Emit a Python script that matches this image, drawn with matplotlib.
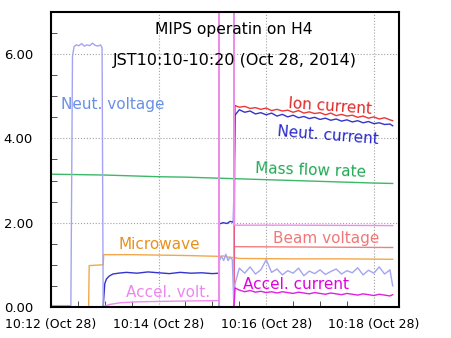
import numpy as np
import matplotlib
matplotlib.use('Agg')
from matplotlib import pyplot as plt
from matplotlib.ticker import MultipleLocator

# time in minutes after 10:12 (Oct 28, 2014)
T_POST = [3.42, 3.5, 3.6, 3.7, 3.8, 3.9, 4.0, 4.1, 4.2, 4.3, 4.4, 4.5, 4.6,
          4.7, 4.8, 4.9, 5.0, 5.1, 5.2, 5.3, 5.4, 5.5, 5.6, 5.7, 5.8, 5.9,
          6.0, 6.1, 6.2, 6.3, 6.35]

neut_volt_t = [0, 0.37, 0.40, 0.43, 0.47, 0.52, 0.57, 0.62, 0.67, 0.72, 0.77,
               0.82, 0.87, 0.92, 0.95, 0.97, 3.12, 3.13, 3.17, 3.21, 3.25,
               3.29, 3.33, 3.37, 3.40]
neut_volt_v = [0.03, 0.03, 5.95, 6.18, 6.22, 6.20, 6.25, 6.19, 6.22, 6.20,
               6.26, 6.21, 6.19, 6.22, 6.15, 0, 0, 1.10, 1.20, 1.10, 1.25,
               1.10, 1.18, 1.12, 0.0]
neut_volt_post = [0.55, 0.92, 0.80, 0.95, 0.78, 0.88, 1.12, 0.82, 0.90, 0.76,
                  0.86, 0.80, 0.92, 0.74, 0.85, 0.79, 0.88, 0.77, 0.84, 0.90,
                  0.78, 0.86, 0.81, 0.93, 0.76, 0.87, 0.80, 0.95, 0.78, 0.88,
                  0.50]

neut_cur_t = [0, 0.97, 1.0, 1.03, 1.08, 1.15, 1.25, 1.4, 1.6, 1.8, 2.0, 2.2,
              2.4, 2.6, 2.8, 3.0, 3.12, 3.13, 3.2, 3.27, 3.33, 3.39]
neut_cur_v = [0, 0, 0.55, 0.66, 0.73, 0.78, 0.80, 0.82, 0.80, 0.83, 0.81,
              0.79, 0.82, 0.80, 0.81, 0.79, 0.80, 1.97, 2.00, 1.98, 2.03, 2.01]
neut_cur_post = [4.55, 4.68, 4.62, 4.65, 4.58, 4.61, 4.56, 4.60, 4.53, 4.57,
                 4.51, 4.55, 4.49, 4.52, 4.47, 4.50, 4.45, 4.48, 4.43, 4.46,
                 4.41, 4.44, 4.39, 4.42, 4.37, 4.40, 4.35, 4.37, 4.33, 4.34,
                 4.30]

ion_t = [0, 3.40]
ion_v = [0, 0]
ion_post = [4.78, 4.74, 4.76, 4.71, 4.73, 4.69, 4.72, 4.66, 4.69, 4.65, 4.67,
            4.62, 4.66, 4.60, 4.63, 4.59, 4.61, 4.56, 4.60, 4.54, 4.57, 4.53,
            4.55, 4.50, 4.53, 4.48, 4.51, 4.46, 4.49, 4.44, 4.42]

accel_cur_t = [0, 3.40]
accel_cur_v = [0, 0]
accel_cur_post = [0.45, 0.40, 0.36, 0.39, 0.35, 0.37, 0.34, 0.36, 0.33, 0.36,
                  0.34, 0.32, 0.35, 0.33, 0.31, 0.34, 0.32, 0.30, 0.33, 0.31,
                  0.29, 0.32, 0.30, 0.28, 0.31, 0.29, 0.27, 0.30, 0.28, 0.26,
                  0.29]

mass_t = [0, 0.5, 1.0, 1.5, 2.0, 2.5, 3.0, 3.5, 4.0, 4.5, 5.0, 5.5, 6.0, 6.35]
mass_v = [3.15, 3.14, 3.13, 3.11, 3.09, 3.08, 3.06, 3.04, 3.02, 3.00, 2.98,
          2.96, 2.94, 2.93]

micro_t = [0, 0.70, 0.71, 0.97, 0.98, 1.5, 2.0, 2.5, 3.12, 3.2, 3.3, 3.4,
           3.5, 4.5, 5.5, 6.35]
micro_v = [0, 0, 0.98, 1.00, 1.24, 1.24, 1.23, 1.22, 1.20, 1.21, 1.18, 1.17,
           1.15, 1.14, 1.14, 1.13]

accel_volt_t = [0, 0.97, 1.0, 1.1, 1.3, 1.6, 2.0, 2.5, 3.12, 3.125, 3.13,
                3.395, 3.40, 3.405, 4.5, 6.35]
accel_volt_v = [0, 0, 0.02, 0.06, 0.10, 0.12, 0.13, 0.14, 0.15, 9, 0, 0, 9,
                1.94, 1.94, 1.93]

beam_t = [0, 3.40, 3.41, 6.35]
beam_v = [0, 0, 1.43, 1.41]

xticks = [0, 2, 4, 6]
xticklabels = ['10:12 (Oct 28)', '10:14 (Oct 28)', '10:16 (Oct 28)',
               '10:18 (Oct 28)']
yticks = [0, 2, 4, 6]
yticklabels = ['0.00', '2.00', '4.00', '6.00']

C_NVOLT = '#a4a4f2'
C_NCUR = '#3434cc'
C_ION = '#e83838'
C_MASS = '#3cb868'
C_MICRO = '#f2a84a'
C_AVOLT = '#ee8cee'
C_BEAM = '#f08080'
C_ACUR = '#e020e0'


def main():
    fig = plt.figure(figsize=(4.51, 3.38), dpi=100)
    ax = fig.add_axes([0.113, 0.092, 0.772, 0.8725])

    lw = 1.0
    ax.plot(mass_t, mass_v, color=C_MASS, lw=lw)
    ax.plot(micro_t, micro_v, color=C_MICRO, lw=lw)
    ax.plot(beam_t, beam_v, color=C_BEAM, lw=lw)
    ax.plot(ion_t + T_POST, ion_v + ion_post, color=C_ION, lw=lw)
    ax.plot(neut_cur_t + T_POST, neut_cur_v + neut_cur_post, color=C_NCUR, lw=lw)
    ax.plot(neut_volt_t + T_POST, neut_volt_v + neut_volt_post, color=C_NVOLT, lw=lw)
    ax.plot(accel_volt_t, accel_volt_v, color=C_AVOLT, lw=lw)
    ax.plot(accel_cur_t + T_POST, accel_cur_v + accel_cur_post, color=C_ACUR, lw=lw)

    ax.set_xlim(0, 6.47)
    ax.set_ylim(0, 7)
    ax.set_xticks(xticks)
    ax.set_xticklabels(xticklabels, fontsize=9)
    ax.set_yticks(yticks)
    ax.set_yticklabels(yticklabels, fontsize=9.5)
    ax.xaxis.set_minor_locator(MultipleLocator(0.5))
    ax.yaxis.set_minor_locator(MultipleLocator(0.5))
    ax.tick_params(which='both', direction='in', colors='#333333',
                   labelcolor='black')
    ax.tick_params(axis='y', which='major', length=0, pad=13)
    ax.tick_params(axis='y', which='minor', length=4)
    ax.tick_params(axis='x', which='major', length=0, pad=8)
    ax.tick_params(axis='x', which='minor', length=4)
    ax.grid(which='major', color='#a0a0a0', linestyle=':', linewidth=0.8)
    for s in ax.spines.values():
        s.set_linewidth(1.5)
        s.set_color('black')

    def lab(x, y, s, c, rot=0, size=11):
        ax.text(x, y, s, color=c, fontsize=size, ha='center', va='center',
                rotation=rot, rotation_mode='anchor')

    lab(3.39, 6.59, 'MIPS operatin on H4', 'black', size=11.2)
    lab(3.42, 5.86, 'JST10:10-10:20 (Oct 28, 2014)', 'black', size=11.5)
    lab(1.15, 4.81, 'Neut. voltage', '#6a90e4')
    lab(5.19, 4.77, 'Ion current', '#e02828', rot=-4)
    lab(5.14, 4.08, 'Neut. current', '#2828cc', rot=-4.5)
    lab(4.82, 3.23, 'Mass flow rate', '#22aa55', rot=-2)
    lab(2.01, 1.47, 'Microwave', '#e89020')
    lab(5.12, 1.62, 'Beam voltage', '#f07878')
    lab(2.18, 0.35, 'Accel. volt.', '#ec88ec')
    lab(4.56, 0.52, 'Accel. current', '#e000e0')

    fig.savefig('out.png', dpi=100)


if __name__ == '__main__':
    main()
